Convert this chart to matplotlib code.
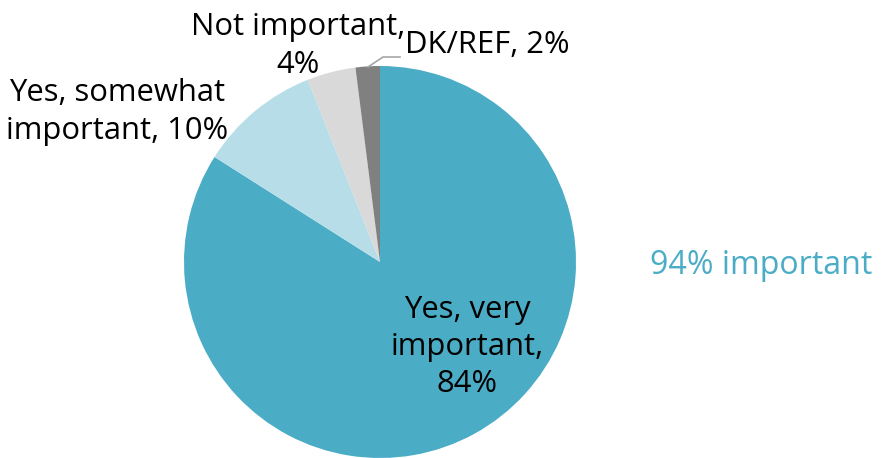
import matplotlib.pyplot as plt

# Données du graphique
labels = ["Yes, very\nimportant,\n84%", "Yes, somewhat\nimportant, 10%", "Not important,\n4%", "DK/REF, 2%"]
values = [84, 10, 4, 2]
colors = ["#4BACC6", "#B7DEE8", "#D9D9D9", "#808080"]
summary = "94% important"

W, H = 882, 458
plt.rcParams['font.family'] = ['Open Sans', 'DejaVu Sans']

fig = plt.figure(figsize=(W / 100, H / 100), dpi=100)
ax = fig.add_axes([0, 0, 1, 1])

cx, cy, r = 380, H - 262, 196
ax.pie(values, colors=colors, startangle=90, counterclock=False,
       center=(cx, cy), radius=r, wedgeprops=dict(linewidth=0))
ax.set_xlim(0, W)
ax.set_ylim(0, H)
ax.set_aspect('equal')
ax.axis('off')

fs = 22.3
ls = 1.32
ax.text(467, H - 347, labels[0], ha='center', va='center', fontsize=fs, linespacing=ls)
ax.text(117, H - 112, labels[1], ha='center', va='center', fontsize=fs, linespacing=ls)
ax.text(298, H - 46, labels[2], ha='center', va='center', fontsize=fs, linespacing=ls)
ax.text(405, H - 45, labels[3], ha='left', va='center', fontsize=fs)
ax.text(650, H - 266, summary, ha='left', va='center', fontsize=fs + 0.8, color="#4BACC6")

# trait de rappel pour DK/REF
ax.plot([368, 383, 400], [H - 67, H - 57, H - 57], color="#A6A6A6", linewidth=1.2)

fig.savefig("out.png", dpi=100)
